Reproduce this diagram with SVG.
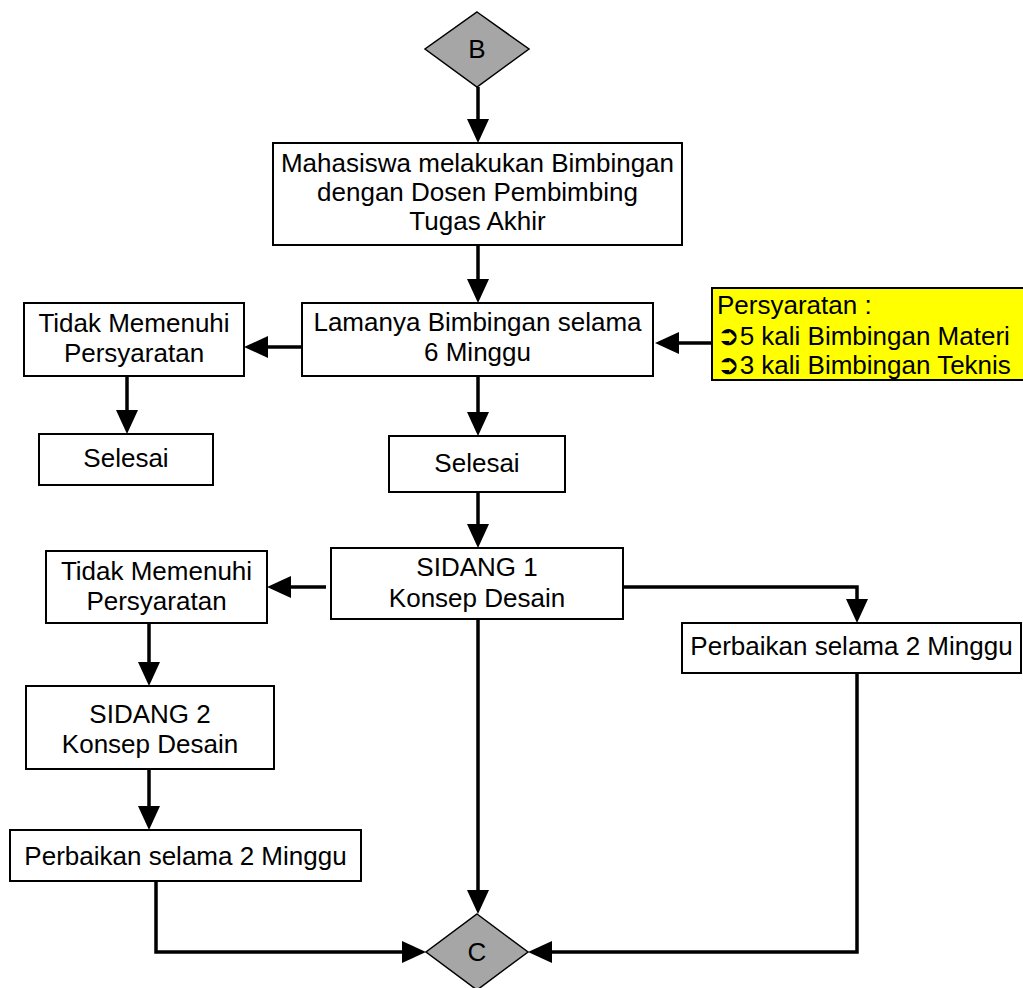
<svg xmlns="http://www.w3.org/2000/svg" width="1023" height="988" viewBox="0 0 1023 988">
<style>
.box{fill:#fff;stroke:#000;stroke-width:2}
.dia{fill:#a6a6a6;stroke:#000;stroke-width:1.5}
.t{font-family:"Liberation Sans",Arial,sans-serif;font-size:26px;fill:#000;text-anchor:middle}
.tl{font-family:"Liberation Sans","DejaVu Sans",Arial,sans-serif;font-size:26px;fill:#000}
.sym{font-family:"DejaVu Sans",sans-serif;font-size:27px}
.c{fill:none;stroke:#000;stroke-width:3.5;marker-end:url(#ah)}
</style>
<defs>
<marker id="ah" markerUnits="userSpaceOnUse" markerWidth="24" markerHeight="22" refX="12" refY="11" orient="auto" overflow="visible">
<path d="M0,0 L24,11 L0,22 z" fill="#000"/>
</marker>
</defs>
<rect width="1023" height="988" fill="#fff"/>
<g id="connectors">
<path class="c" d="M478,87 V131"/>
<path class="c" d="M478,245 V291"/>
<path class="c" d="M712,343 H667"/>
<path class="c" d="M302,347 H256"/>
<path class="c" d="M127,376 V422"/>
<path class="c" d="M478,376 V424"/>
<path class="c" d="M478,492 V536"/>
<path class="c" d="M326,587 H279"/>
<path class="c" d="M623,587 H857 V611"/>
<path class="c" d="M149,623 V674"/>
<path class="c" d="M149,769 V818"/>
<path class="c" d="M478,619 V902"/>
<path class="c" d="M156,881 V952 H414"/>
<path class="c" d="M857,673 V952 H540"/>
</g>
<g id="nodeB">
<polygon class="dia" points="477,12 529,49 477,87 425,49"/>
<text class="t" x="477" y="58">B</text>
</g>
<g id="bimbingan">
<rect class="box" x="273" y="143" width="409" height="102"/>
<text class="t" x="477.5" y="172">Mahasiswa melakukan Bimbingan</text>
<text class="t" x="477.5" y="201">dengan Dosen Pembimbing</text>
<text class="t" x="477.5" y="230">Tugas Akhir</text>
</g>
<g id="lamanya">
<rect class="box" x="302" y="303" width="351" height="73"/>
<text class="t" x="477.5" y="331">Lamanya Bimbingan selama</text>
<text class="t" x="477.5" y="361">6 Minggu</text>
</g>
<g id="persyaratan">
<rect x="712" y="288" width="320" height="92" fill="#ffff00" stroke="#000" stroke-width="2"/>
<text class="tl" x="717" y="314">Persyaratan :</text>
<text class="tl" x="717" y="345"><tspan class="sym">➲</tspan>5 kali Bimbingan Materi</text>
<text class="tl" x="717" y="374"><tspan class="sym">➲</tspan>3 kali Bimbingan Teknis</text>
</g>
<g id="tidak1">
<rect class="box" x="24" y="303" width="220" height="73"/>
<text class="t" x="134" y="332">Tidak Memenuhi</text>
<text class="t" x="134" y="362">Persyaratan</text>
</g>
<g id="selesai1">
<rect class="box" x="39" y="434" width="174" height="51"/>
<text class="t" x="126" y="467">Selesai</text>
</g>
<g id="selesai2">
<rect class="box" x="389" y="436" width="176" height="56"/>
<text class="t" x="477" y="472">Selesai</text>
</g>
<g id="sidang1">
<rect class="box" x="331" y="548" width="292" height="71"/>
<text class="t" x="477" y="576">SIDANG 1</text>
<text class="t" x="477" y="607">Konsep Desain</text>
</g>
<g id="tidak2">
<rect class="box" x="46" y="551" width="221" height="72"/>
<text class="t" x="156.5" y="580">Tidak Memenuhi</text>
<text class="t" x="156.5" y="610">Persyaratan</text>
</g>
<g id="perbaikan1">
<rect class="box" x="682" y="623" width="339" height="50"/>
<text class="t" x="851.5" y="655">Perbaikan selama 2 Minggu</text>
</g>
<g id="sidang2">
<rect class="box" x="26" y="686" width="248" height="83"/>
<text class="t" x="150" y="723">SIDANG 2</text>
<text class="t" x="150" y="753">Konsep Desain</text>
</g>
<g id="perbaikan2">
<rect class="box" x="10" y="830" width="351" height="51"/>
<text class="t" x="185.5" y="865">Perbaikan selama 2 Minggu</text>
</g>
<g id="nodeC">
<polygon class="dia" points="477,914 528,952 477,990 426,952"/>
<text class="t" x="477" y="961">C</text>
</g>
</svg>
